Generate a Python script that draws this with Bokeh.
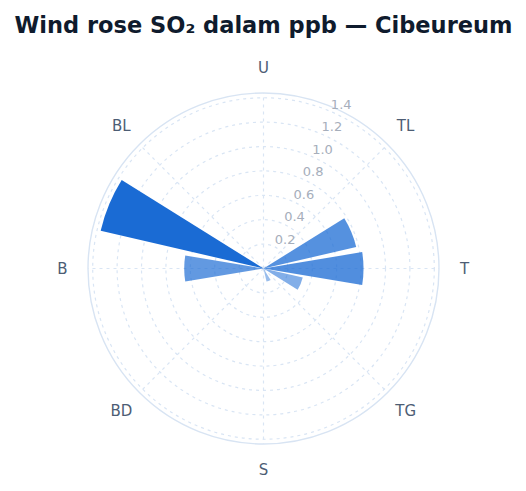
import numpy as np
from bokeh.plotting import figure
from bokeh.models import ColumnDataSource
from bokeh.core.properties import value
from bokeh.embed import file_html
from bokeh.resources import INLINE

# ---- data ----
directions16 = ["U", "UTL", "TL", "TTL", "T", "TTG", "TG", "STG",
                "S", "SBD", "BD", "BBD", "B", "BBL", "BL", "UBL"]
so2_ppb = [0.0, 0.0, 0.0, 0.78, 0.82, 0.33, 0.0, 0.11,
           0.0, 0.0, 0.0, 0.0, 0.65, 1.37, 0.0, 0.0]
compass_labels = ["U", "TL", "T", "TG", "S", "BD", "B", "BL"]
radial_ticks = [0.2, 0.4, 0.6, 0.8, 1.0, 1.2, 1.4]
title_text = "Wind rose SO\u2082 dalam ppb \u2014 Cibeureum"

# ---- geometry ----
W, H = 526, 491
scale = 122.0               # px per ppb
cx_px, cy_px = 263, 268     # center in plot pixels (from top-left)
vmax = max(so2_ppb)
rmax = vmax * 1.05

x0 = -cx_px / scale
x1 = (W - cx_px) / scale
y1 = cy_px / scale
y0 = -(H - cy_px) / scale

p = figure(width=W, height=H, x_range=(x0, x1), y_range=(y0, y1),
           output_backend="svg", toolbar_location=None, min_border=0)
p.axis.visible = False
p.grid.visible = False
p.outline_line_color = None
p.background_fill_color = "white"

grid_col = "#d9e5f4"

# radial (dotted) circles
p.circle(x=0, y=0, radius=radial_ticks, fill_color=None,
         line_color=grid_col, line_dash="3 4", line_width=1.2)
# angular grid lines every 45 deg
bear8 = np.deg2rad(np.arange(8) * 45.0)
p.segment(x0=0, y0=0, x1=rmax * np.sin(bear8), y1=rmax * np.cos(bear8),
          line_color=grid_col, line_dash="3 4", line_width=1.2)
# outer circle
p.circle(x=0, y=0, radius=rmax, fill_color=None,
         line_color="#d8e4f3", line_width=1.4)

# bars
step = 360.0 / len(directions16)
half = step * 0.42
bearings = np.arange(len(directions16)) * step
vals = np.array(so2_ppb)
mask = vals > 0
src = ColumnDataSource(dict(
    r=vals[mask],
    start=np.deg2rad(90 - (bearings[mask] + half)),
    end=np.deg2rad(90 - (bearings[mask] - half)),
    alpha=0.4 + 0.6 * vals[mask] / vmax,
))
p.wedge(x=0, y=0, radius="r", start_angle="start", end_angle="end",
        source=src, fill_color="#1a6bd4", fill_alpha="alpha",
        line_color=None)

# radial tick labels along 22.5 deg bearing
tb = np.deg2rad(22.5)
rt = np.array(radial_ticks)
p.text(x=rt * np.sin(tb), y=rt * np.cos(tb), text=[f"{t:.1f}" for t in radial_ticks],
       text_font=value("DejaVu Sans"), text_font_size="13px",
       text_color="#a6aebb", text_align="left", text_baseline="bottom",
       x_offset=2, y_offset=-2)

# compass labels
lab_r = 201 / scale
b8 = np.deg2rad(np.arange(len(compass_labels)) * 45.0)
p.text(x=lab_r * np.sin(b8), y=lab_r * np.cos(b8), text=compass_labels,
       text_font=value("DejaVu Sans"), text_font_size="15px",
       text_color="#4d5d74", text_align="center", text_baseline="middle")

# title
p.text(x=[(263 - cx_px) / scale], y=[(cy_px - 24) / scale], text=[title_text],
       text_font=value("DejaVu Sans"), text_font_style="bold",
       text_font_size="22.5px", text_color="#0f1b2d",
       text_align="center", text_baseline="middle")

open("out.html", "w").write(file_html(p, INLINE))
